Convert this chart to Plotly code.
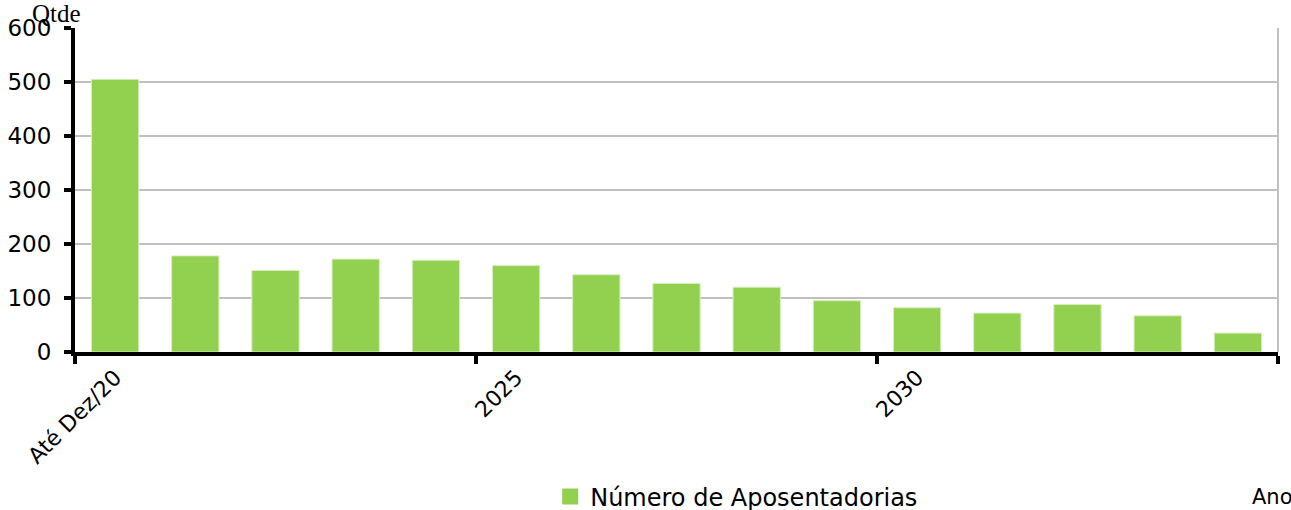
import plotly.graph_objects as go

categories = ["Até Dez/20", "2021", "2022", "2023", "2024", "2025", "2026", "2027",
              "2028", "2029", "2030", "2031", "2032", "2033", "2034"]
values = [505, 178, 151, 172, 170, 160, 143, 127, 120, 95, 82, 72, 88, 67, 35]
series_name = "Número de Aposentadorias"
label_idx = [0, 5, 10]
y_ticks = [0, 100, 200, 300, 400, 500, 600]

xpos = list(range(len(categories)))
green = "#92D050"
font_main = "DejaVu Sans, Verdana, sans-serif"

fig = go.Figure()
fig.add_trace(go.Bar(
    x=xpos, y=values, name=series_name,
    marker=dict(color=green, line=dict(color="#D8EFC0", width=1)),
    width=0.59, showlegend=False,
))
# legend entry with a larger square swatch
fig.add_trace(go.Scatter(
    x=[None], y=[None], mode="markers", name=series_name,
    marker=dict(symbol="square", size=16, color=green),
    showlegend=True,
))

fig.update_layout(
    width=1291, height=510,
    margin=dict(l=75, r=13, t=28, b=158, autoexpand=False),
    plot_bgcolor="white", paper_bgcolor="white",
    showlegend=True,
    legend=dict(orientation="h", x=0.395, xanchor="left", y=-0.447, yanchor="middle",
                font=dict(family=font_main, size=24, color="black"),
                itemwidth=30),
    font=dict(family=font_main, size=23, color="black"),
    xaxis=dict(
        range=[-0.5, len(categories) - 0.5],
        tickmode="array",
        tickvals=[xpos[i] for i in label_idx],
        ticktext=[categories[i] for i in label_idx],
        tickangle=-45,
        ticks="",
        showgrid=False,
        showline=True, linecolor="black", linewidth=4,
        tickfont=dict(family=font_main, size=22, color="black"),
        minor=dict(tickvals=[-0.5, 4.5, 9.5, 14.5], ticks="outside", ticklen=8,
                   tickwidth=4, tickcolor="black", showgrid=False),
        zeroline=False, automargin=False,
    ),
    yaxis=dict(
        range=[0, 600],
        tickmode="array", tickvals=y_ticks,
        ticks="outside", ticklen=7, tickwidth=4, tickcolor="black",
        ticklabelstandoff=8,
        showline=True, linecolor="black", linewidth=4,
        showgrid=True, gridcolor="#C0C0C0", gridwidth=2,
        zeroline=False, automargin=False,
        tickfont=dict(family=font_main, size=23, color="black"),
    ),
    shapes=[dict(type="line", xref="paper", yref="paper", x0=1, x1=1, y0=0, y1=1,
                 line=dict(color="#C0C0C0", width=2))],
    annotations=[
        dict(text="Qtde", xref="paper", yref="paper", x=-0.0374, y=1.092,
             xanchor="left", yanchor="top", showarrow=False,
             font=dict(family="Liberation Serif, Times New Roman, serif", size=25, color="black")),
        dict(text="Ano", xref="paper", yref="paper", x=0.9767, y=-0.4475,
             xanchor="left", yanchor="middle", showarrow=False,
             font=dict(family=font_main, size=21, color="black")),
    ],
)

fig.write_html("out.html", config={"displayModeBar": False},
               post_script="document.body.style.margin='0px';")
